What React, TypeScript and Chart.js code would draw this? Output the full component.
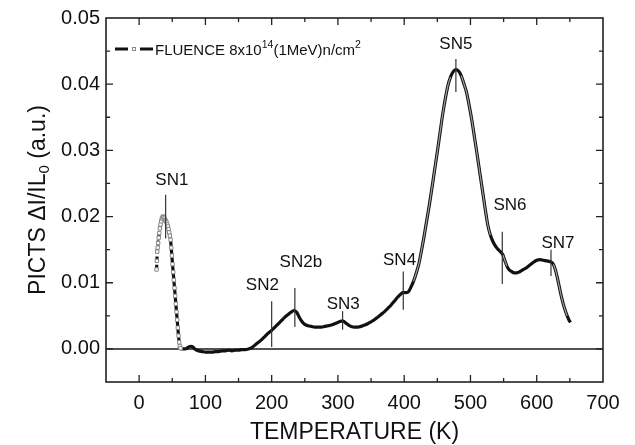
import React, { useEffect, useRef } from 'react';
import { Chart, registerables } from 'chart.js';

Chart.register(...registerables);

const FONT = '"Liberation Sans", Arial, Helvetica, sans-serif';

// Temperature (K)
const temperatures = [
  26.3, 26.8, 27.2, 28.0, 28.7, 29.5, 30.4, 31.3, 32.3, 33.3, 34.3, 35.3, 36.2, 37.2, 38.2, 39.3,
  40.3, 41.4, 42.4, 43.4, 44.4, 45.4, 46.4, 47.4, 48.4, 49.4, 50.4, 51.4, 52.4, 53.4, 54.4, 55.4,
  56.4, 57.4, 58.4, 59.4, 60.4, 61.4, 62.5, 64, 66, 68, 70, 72, 75, 78, 81, 84, 87, 90, 95, 100,
  105, 110, 115, 120, 125, 130, 135, 140, 145, 150, 155, 160, 165, 170, 175, 180, 185, 190, 195,
  200, 205, 210, 215, 220, 225, 230, 234, 238, 242, 246, 250, 255, 260, 265, 270, 275, 280, 285,
  290, 295, 300, 305, 308, 312, 316, 320, 325, 330, 335, 340, 345, 350, 355, 360, 365, 370, 375,
  380, 385, 390, 395, 398, 402, 406, 410, 414, 418, 422, 426, 430, 434, 438, 442, 446, 450, 454,
  458, 462, 466, 470, 474, 478, 482, 486, 490, 494, 498, 502, 506, 510, 514, 518, 522, 526, 530,
  534, 538, 542, 546, 549, 552, 555, 558, 562, 566, 570, 575, 580, 585, 590, 595, 600, 605, 610,
  615, 620, 625, 628, 631, 634, 637, 640, 643, 646, 649, 651,
];

// PICTS signal ΔI/IL0 (a.u.)
const signal = [
  0.0120, 0.0133, 0.0147, 0.0153, 0.0160, 0.0168, 0.0175, 0.0182, 0.0188, 0.0193, 0.0197, 0.0199,
  0.0200, 0.0199, 0.0197, 0.0195, 0.0193, 0.0191, 0.0188, 0.0185, 0.0181, 0.0176, 0.0171, 0.0165,
  0.0153, 0.0141, 0.0128, 0.0116, 0.0104, 0.0092, 0.0080, 0.0068, 0.0056, 0.0044, 0.0032, 0.0020,
  0.0010, 0.0004, 0.0001, 0.0000, 0.0000, 0.0000, 0.0000, 0.0001, 0.0003, 0.0004, 0.0003, 0.0000,
  -0.0002, -0.0003, -0.0004, -0.0005, -0.0005, -0.0005, -0.0004, -0.0004, -0.0003, -0.0003,
  -0.0002, -0.0003, -0.0002, -0.0002, -0.0001, -0.0001, 0.0000, 0.0002, 0.0006, 0.0010, 0.0014,
  0.0019, 0.0024, 0.0028, 0.0033, 0.0038, 0.0043, 0.0048, 0.0052, 0.0056, 0.0058, 0.0055, 0.0047,
  0.0041, 0.0037, 0.0035, 0.0034, 0.0033, 0.0033, 0.0033, 0.0034, 0.0035, 0.0036, 0.0038, 0.0040,
  0.0042, 0.0042, 0.0039, 0.0036, 0.0034, 0.0033, 0.0033, 0.0034, 0.0036, 0.0038, 0.0041, 0.0044,
  0.0048, 0.0052, 0.0056, 0.0061, 0.0066, 0.0072, 0.0078, 0.0083, 0.0085, 0.0085, 0.0086, 0.0093,
  0.0102, 0.0114, 0.0128, 0.0148, 0.0170, 0.0194, 0.0218, 0.0244, 0.0271, 0.0298, 0.0326, 0.0354,
  0.0378, 0.0398, 0.0411, 0.0419, 0.0422, 0.0420, 0.0413, 0.0401, 0.0388, 0.0368, 0.0346, 0.0320,
  0.0294, 0.0267, 0.0240, 0.0213, 0.0188, 0.0172, 0.0162, 0.0155, 0.0150, 0.0146, 0.0142, 0.0133,
  0.0125, 0.0120, 0.0117, 0.0115, 0.0115, 0.0117, 0.0120, 0.0123, 0.0127, 0.0131, 0.0134, 0.0135,
  0.0134, 0.0133, 0.0132, 0.0128, 0.0120, 0.0108, 0.0094, 0.0080, 0.0068, 0.0058, 0.0050, 0.0043,
  0.0040,
];

// Peak annotations
const peakNames = ['SN1', 'SN2', 'SN2b', 'SN3', 'SN4', 'SN5', 'SN6', 'SN7'];
const peakTemps = [40, 200, 235, 307, 398.6, 478, 548, 621.5];
const peakLineTop = [0.0233, 0.0072, 0.0092, 0.0057, 0.0117, 0.0438, 0.0177, 0.015];
const peakLineBottom = [0.0167, 0.0003, 0.0033, 0.0029, 0.0059, 0.0388, 0.0098, 0.011];
const peakLabelT = [49.4, 186, 244, 308, 393, 478, 559.6, 632];
const peakLabelV = [0.0256, 0.00975, 0.0132, 0.0069, 0.0135, 0.0461, 0.0218, 0.0161];

// Axis ticks
const xLabelTicks = [0, 100, 200, 300, 400, 500, 600, 700];
const yLabelTicks = [0, 0.01, 0.02, 0.03, 0.04, 0.05];
const xMajorTicks = [0, 100, 200, 300, 400, 500, 600];
const xMinorTicks = [50, 150, 250, 350, 450, 550, 650];
const yMajorTicks = [0, 0.01, 0.02, 0.03, 0.04];
const yMinorTicks = [0.005, 0.015, 0.025, 0.035, 0.045];

const xTitle = 'TEMPERATURE (K)';
const yTitleMain = 'PICTS \u0394I/IL';
const yTitleSub = '0';
const yTitleEnd = ' (a.u.)';
const legendParts = ['FLUENCE 8x10', '14', '(1MeV)n/cm', '2'];

const SN1_END = 62.6;

const overlayPlugin = {
  id: 'overlay',
  beforeDatasetsDraw(chart: any) {
    const { ctx, chartArea: a, scales } = chart;
    const y = scales.y;
    ctx.save();
    ctx.strokeStyle = '#1a1a1a';
    ctx.lineWidth = 1.5;
    const y0 = y.getPixelForValue(0);
    ctx.beginPath();
    ctx.moveTo(a.left, y0);
    ctx.lineTo(a.right, y0);
    ctx.stroke();
    ctx.restore();
  },
  afterDatasetsDraw(chart: any) {
    const { ctx, chartArea: a, scales } = chart;
    const x = scales.x;
    const y = scales.y;
    ctx.save();

    // peak marker lines
    ctx.strokeStyle = '#333';
    ctx.lineWidth = 1.2;
    peakTemps.forEach((t, i) => {
      const px = x.getPixelForValue(t);
      ctx.beginPath();
      ctx.moveTo(px, y.getPixelForValue(peakLineTop[i]));
      ctx.lineTo(px, y.getPixelForValue(peakLineBottom[i]));
      ctx.stroke();
    });

    // peak labels
    ctx.fillStyle = '#111';
    ctx.font = `17px ${FONT}`;
    ctx.textAlign = 'center';
    ctx.textBaseline = 'middle';
    peakNames.forEach((n, i) => {
      ctx.fillText(n, x.getPixelForValue(peakLabelT[i]), y.getPixelForValue(peakLabelV[i]) + 1);
    });

    // frame
    ctx.strokeStyle = '#222';
    ctx.lineWidth = 1.6;
    ctx.strokeRect(a.left, a.top, a.right - a.left, a.bottom - a.top);

    // inward ticks
    ctx.lineWidth = 1.3;
    const vline = (px: number, len: number) => {
      ctx.beginPath();
      ctx.moveTo(px, a.bottom);
      ctx.lineTo(px, a.bottom - len);
      ctx.moveTo(px, a.top);
      ctx.lineTo(px, a.top + len);
      ctx.stroke();
    };
    const hline = (py: number, len: number) => {
      ctx.beginPath();
      ctx.moveTo(a.left, py);
      ctx.lineTo(a.left + len, py);
      ctx.moveTo(a.right, py);
      ctx.lineTo(a.right - len, py);
      ctx.stroke();
    };
    xMajorTicks.forEach((t) => vline(x.getPixelForValue(t), 7));
    xMinorTicks.forEach((t) => vline(x.getPixelForValue(t), 4));
    yMajorTicks.forEach((v) => hline(y.getPixelForValue(v), 7));
    yMinorTicks.forEach((v) => hline(y.getPixelForValue(v), 4));

    // x title
    ctx.fillStyle = '#111';
    ctx.font = `23px ${FONT}`;
    ctx.textAlign = 'center';
    ctx.textBaseline = 'alphabetic';
    ctx.fillText(xTitle, (a.left + a.right) / 2, 439);

    // y title (rotated, with subscript)
    ctx.save();
    ctx.translate(36, (a.top + a.bottom) / 2);
    ctx.rotate(-Math.PI / 2);
    ctx.textAlign = 'left';
    ctx.font = `23px ${FONT}`;
    const w1 = ctx.measureText(yTitleMain).width;
    const w3 = ctx.measureText(yTitleEnd).width;
    ctx.font = `15px ${FONT}`;
    const w2 = ctx.measureText(yTitleSub).width;
    const x0 = -(w1 + w2 + w3) / 2;
    ctx.font = `23px ${FONT}`;
    ctx.fillText(yTitleMain, x0, 8.5);
    ctx.fillText(yTitleEnd, x0 + w1 + w2, 8.5);
    ctx.font = `15px ${FONT}`;
    ctx.fillText(yTitleSub, x0 + w1, 12.5);
    ctx.restore();

    // legend
    const ly = a.top + 31;
    ctx.strokeStyle = '#111';
    ctx.lineWidth = 3;
    ctx.beginPath();
    ctx.moveTo(a.left + 9, ly);
    ctx.lineTo(a.left + 22, ly);
    ctx.moveTo(a.left + 34, ly);
    ctx.lineTo(a.left + 47, ly);
    ctx.stroke();
    ctx.strokeStyle = '#8a8a8a';
    ctx.lineWidth = 1;
    ctx.fillStyle = '#fff';
    ctx.fillRect(a.left + 26.5, ly - 1.5, 3, 3);
    ctx.strokeRect(a.left + 26.5, ly - 1.5, 3, 3);
    ctx.fillStyle = '#111';
    ctx.textAlign = 'left';
    ctx.textBaseline = 'alphabetic';
    let tx = a.left + 49;
    const base = ly + 5.5;
    legendParts.forEach((p, i) => {
      const sup = i % 2 === 1;
      ctx.font = sup ? `10.5px ${FONT}` : `15px ${FONT}`;
      ctx.fillText(p, tx, sup ? base - 6.5 : base);
      tx += ctx.measureText(p).width;
    });

    ctx.restore();
  },
};

export default function App() {
  const ref = useRef<HTMLCanvasElement | null>(null);

  useEffect(() => {
    if (!ref.current) return;
    const data = temperatures.map((t, i) => ({ x: t, y: signal[i] }));
    const chart = new Chart(ref.current, {
      type: 'line',
      data: {
        datasets: [
          {
            data,
            borderWidth: 1.2,
            borderColor: 'rgba(0,0,0,0)',
            cubicInterpolationMode: 'monotone',
            pointRadius: 0,
            segment: {
              borderColor: (c: any) => {
                if (temperatures[c.p1DataIndex] <= SN1_END + 3) return 'rgba(0,0,0,0)';
                const dx = Math.abs(c.p1.x - c.p0.x);
                const dy = Math.abs(c.p1.y - c.p0.y);
                return dy > 2.5 * dx ? '#a0a0a0' : 'rgba(0,0,0,0)';
              },
            },
          } as any,
          {
            data,
            borderColor: '#111',
            borderWidth: 3.2,
            cubicInterpolationMode: 'monotone',
            pointStyle: 'rect',
            pointRadius: (c: any) => (c.raw && c.raw.x < SN1_END ? 2.4 : 0),
            pointBorderColor: '#8a8a8a',
            pointBackgroundColor: '#ffffff',
            pointBorderWidth: 1,
            segment: {
              borderDash: (c: any) => (temperatures[c.p1DataIndex] <= SN1_END ? [5, 3] : undefined),
            },
          } as any,
        ],
      },
      options: {
        responsive: false,
        devicePixelRatio: 1,
        animation: false,
        layout: { padding: { top: 15, right: 32, left: 0, bottom: 0 } },
        plugins: { legend: { display: false }, tooltip: { enabled: false } },
        scales: {
          x: {
            type: 'linear',
            min: -50,
            max: 700,
            grid: { display: false, drawTicks: false },
            border: { display: false },
            afterBuildTicks: (s: any) => {
              s.ticks = xLabelTicks.map((v) => ({ value: v }));
            },
            ticks: {
              autoSkip: false,
              maxRotation: 0,
              padding: 9,
              color: '#111',
              font: { size: 20, family: FONT },
              callback: (v: any) => String(Math.round(Number(v))),
            },
            afterFit: (s: any) => {
              s.height = 63;
            },
          },
          y: {
            type: 'linear',
            min: -0.005,
            max: 0.05,
            grid: { display: false, drawTicks: false },
            border: { display: false },
            afterBuildTicks: (s: any) => {
              s.ticks = yLabelTicks.map((v) => ({ value: v }));
            },
            ticks: {
              autoSkip: false,
              padding: 6,
              color: '#111',
              font: { size: 20, family: FONT },
              callback: (v: any) => Math.abs(Number(v)).toFixed(2),
            },
            afterFit: (s: any) => {
              s.width = 106;
            },
          },
        },
      } as any,
      plugins: [overlayPlugin],
    });
    return () => chart.destroy();
  }, []);

  return (
    <div style={{ position: 'absolute', left: 0, top: 0, width: 635, height: 445, background: '#fff' }}>
      <canvas ref={ref} width={635} height={445} style={{ display: 'block', width: 635, height: 445 }} />
    </div>
  );
}
